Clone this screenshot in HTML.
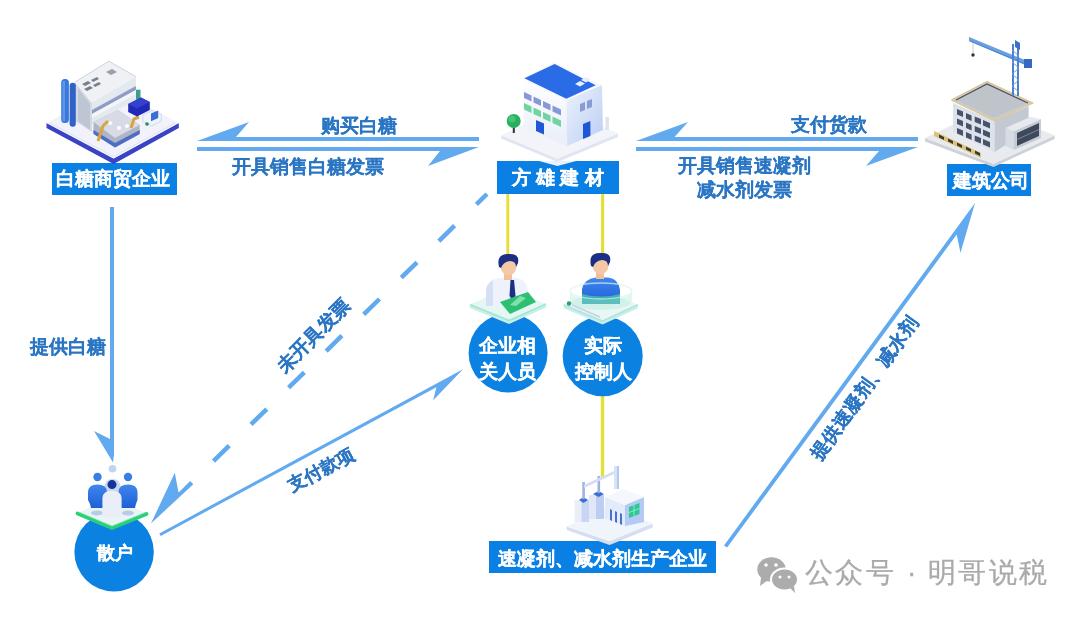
<!DOCTYPE html>
<html><head><meta charset="utf-8">
<style>
html,body{margin:0;padding:0;background:#fff;}
body{width:1080px;height:617px;position:relative;overflow:hidden;font-family:"Liberation Sans",sans-serif;}
svg{position:absolute;left:0;top:0;}
.box{position:absolute;color:#fff;font-weight:bold;font-size:19px;line-height:32px;text-align:center;white-space:nowrap;-webkit-text-stroke:0.25px #fff;}
.lbl{position:absolute;color:#2a76c4;font-weight:bold;font-size:19px;line-height:19px;white-space:nowrap;-webkit-text-stroke:0.15px #2a76c4;}
.ctext{position:absolute;color:#fff;font-weight:bold;font-size:18px;line-height:26px;text-align:center;white-space:nowrap;-webkit-text-stroke:0.25px #fff;}
.wm{position:absolute;color:#aaaaaa;font-size:28px;line-height:28px;white-space:nowrap;-webkit-text-stroke:0.3px #aaaaaa;}
#wrap{position:absolute;left:0;top:0;width:1080px;height:617px;filter:blur(0.4px);}
</style></head><body>
<div id="wrap">

<svg width="1080" height="617" viewBox="0 0 1080 617">
<defs>
  <linearGradient id="gRight" x1="0" y1="0" x2="1" y2="1">
    <stop offset="0" stop-color="#eef3fd"/><stop offset="1" stop-color="#b9cdf3"/>
  </linearGradient>
  <linearGradient id="gLeftW" x1="0" y1="0" x2="0" y2="1">
    <stop offset="0" stop-color="#ffffff"/><stop offset="1" stop-color="#e9eef8"/>
  </linearGradient>
  <linearGradient id="gBlueBody" x1="0" y1="0" x2="0" y2="1">
    <stop offset="0" stop-color="#3f86ee"/><stop offset="1" stop-color="#1f5fd6"/>
  </linearGradient>
</defs>

<!-- ===== yellow connector lines ===== -->
<rect x="506.3" y="194" width="3" height="72" fill="#e6df3a"/>
<rect x="601" y="194" width="3.2" height="72" fill="#e6df3a"/>
<rect x="600.8" y="390" width="3.4" height="87" fill="#e6df3a"/>

<!-- ===== arrows ===== -->
<g fill="#62aaf0">
  <polygon points="197,141 249,122 236,137 479,137 479,141"/>
  <polygon points="197,147 479,147 428,166 440,151 197,151"/>
  <polygon points="636,141 688,122 674.5,137 918,137 918,141"/>
  <polygon points="636,147 918,147 866,166 879,151 636,151"/>
  <polygon points="110,207 114,207 114,455 113,462.5 94,431 110,439"/>
  <polygon points="159.3,533.4 463.0,369.2 433.2,400.3 436.4,387.2 160.7,536.0"/>
  <polygon points="724.0,545.4 975.0,203.0 960.5,252.7 956.7,234.6 727.1,547.6"/>
  <polygon points="193.3,484.3 151.0,523.5 174.8,472.7 178.6,492.4 190.1,481.1"/>
</g>
<line x1="487" y1="194" x2="190" y2="484" stroke="#62aaf0" stroke-width="4.5" stroke-dasharray="14.8 30.5 22 30.5 22 30.5 22 30.5 22 30.5 22 30.5 22 30.5 22 100"/>

<!-- ===== label boxes ===== -->
<g fill="#0a80e4">
  <rect x="52" y="163" width="125" height="32"/>
  <rect x="497" y="161" width="122" height="33"/>
  <rect x="947" y="164" width="84" height="32"/>
  <rect x="489" y="541" width="227" height="32"/>
</g>

<polygon points="539,161 557.5,166 576,161" fill="#eaf2fd"/>
<!-- ===== circles ===== -->
<g fill="#0b82e2">
  <circle cx="114.1" cy="551.9" r="39.7"/>
  <circle cx="508.1" cy="352.9" r="39.5"/>
  <circle cx="602.7" cy="356.2" r="40"/>
</g>

<!-- ===== top-left factory ===== -->
<g id="factory1">
  <polygon points="46.5,123 113.6,158.4 178.8,123 178.8,128 113.6,164 46.5,128" fill="#3a43c4"/>
  <polygon points="46.5,123 113,88 178.8,123 113.6,158.4" fill="#f1f2fb"/>
  <polyline points="50,123 113.6,156.5 175,123" fill="none" stroke="#dfe2f4" stroke-width="1"/>
  <!-- main block -->
  <polygon points="75,82 92,102.8 92,132 75,121" fill="#d4d9e2"/>
  <polygon points="78,88 90,104 90,130 78,121" fill="#bfc6d3"/>
  <polygon points="92,102.8 135.9,76.6 135.9,100 92,124" fill="#e4e8ef"/>
  <polygon points="92,110 135.9,86 135.9,90 92,114" fill="#8e9cc6"/>
  <polygon points="92,114 135.9,90 135.9,94 92,118" fill="#f3f5f9"/>
  <polygon points="108.9,61.2 135.9,76.6 92,102.8 75,82" fill="#eff1f5"/>
  <polyline points="75,82 108.9,61.2 135.9,76.6" fill="none" stroke="#cdd2dc" stroke-width="1"/>
  <g fill="#7a808e">
    <polygon points="82,84 88,81 91,83 85,86"/><polygon points="84,89 90,86 93,88 87,91"/>
    <polygon points="91,80 97,77 99,79 93,82"/><polygon points="93,85 99,82 101,84 95,87"/>
    <polygon points="106,72 112,69 117,72 111,75" fill="#9aa0ac"/>
  </g>
  <!-- columns -->
  <rect x="61.2" y="79" width="7.7" height="44" rx="3.5" fill="#3b78dc"/>
  <rect x="62.5" y="81" width="2.5" height="40" fill="#5d95ea"/>
  <rect x="69.6" y="82.7" width="6.2" height="44" rx="3" fill="#2f63c8"/>
  <!-- conveyor -->
  <polygon points="93.5,122 118,110 139.7,125 139.7,134 115,147.4 93.5,133" fill="#aeb5c7"/>
  <polygon points="93.5,122 118,110 139.7,125 115,138" fill="#d8dae6"/>
  <polygon points="93.5,130 115,143 139.7,130 139.7,134 115,147.4 93.5,134" fill="#4e6dc4"/>
  <circle cx="110" cy="123" r="2" fill="#fff"/><circle cx="119" cy="128" r="2" fill="#fff"/><circle cx="127" cy="126" r="2" fill="#fff"/>
  <path d="M98,141 L103,126 L108,121" stroke="#d8a63c" stroke-width="3" fill="none"/>
  <path d="M131,128 L134,119 L139,117" stroke="#d8a63c" stroke-width="3" fill="none"/>
  <!-- truck -->
  <rect x="136" y="89.7" width="4.5" height="10" fill="#3aa08c"/>
  <polygon points="128.2,104 141,97.4 149.8,102 149.8,110 137,116.6 128.2,112" fill="#1f2bb8"/>
  <polygon points="128.2,104 141,97.4 149.8,102 137,108.5" fill="#3540cc"/>
  <polygon points="142.8,115 152,110.5 161.3,114 161.3,121 152,125.9 142.8,121.5" fill="#eef3fc" stroke="#c6d3ee" stroke-width="0.8"/>
  <polygon points="151,113.5 158.2,110.5 158.2,118 151,121.3" fill="#3a6cd8"/>
  <circle cx="147" cy="124" r="1.8" fill="#2a8a5a"/>
</g>

<!-- ===== center building ===== -->
<g id="building">
  <polygon points="501.2,135.2 557.4,158.4 618,133.5 618,137 557.4,162 501.2,138.5" fill="#dfe5f1"/>
  <polygon points="501.2,135.2 561,108 618,133.5 557.4,158.4" fill="#f2f4fa"/>
  <rect x="605.5" y="117" width="3.5" height="13" fill="#dde3ef"/>
  <!-- faces -->
  <polygon points="523.5,78 566.3,100 567.2,146 523.5,128" fill="url(#gLeftW)"/>
  <polygon points="566.3,100 602,85 602.9,130 567.2,146" fill="url(#gRight)"/>
  <polygon points="554.7,62 599,85 566.3,101 522,78.5" fill="#f5f8ff"/>
  <polygon points="554.7,63.9 595.7,85.3 566.3,98.7 524.4,78.2" fill="#2a6be6"/>
  <polygon points="575,84 580,81 585,83.5 580,86.5" fill="#e8eefc"/>
  <polygon points="581,80 586,77 591,79.5 586,82.5" fill="#e8eefc"/>
  <!-- windows left face -->
  <g fill="#8798d8">
    <polygon points="524,92 531.5,95.5 531.5,101.5 524,98"/><polygon points="533.5,96.5 541,100 541,106 533.5,102.5"/>
    <polygon points="543,101 550.5,104.5 550.5,110.5 543,107"/><polygon points="552.5,105.5 561,109.5 561,115.5 552.5,111.5"/>
  </g>
  <g fill="#6fd4a3">
    <polygon points="524,103 531.5,106.5 531.5,113 524,109.5"/><polygon points="533.5,107.5 541,111 541,117.5 533.5,114"/>
    <polygon points="543,112 550.5,115.5 550.5,122 543,118.5"/><polygon points="552.5,116.5 561,120.5 561,127 552.5,123"/>
  </g>
  <polygon points="536,120 544,123.5 544,134.5 536,131" fill="#1f57d8"/>
  <!-- right face -->
  <polygon points="580,104 585,102 585,110 580,112" fill="#8a9cd4"/><polygon points="587,101 592,99 592,107 587,109" fill="#8a9cd4"/>
  <polygon points="583,124 590.4,121 590.4,136 583,139" fill="#1f57d8"/>
  <!-- tree -->
  <rect x="512.8" y="124" width="2" height="9" fill="#2c3340"/>
  <circle cx="513.7" cy="121" r="7" fill="#28b060"/>
  <circle cx="512" cy="119" r="3.5" fill="#4fd182" opacity="0.7"/>
</g>

<!-- ===== construction site ===== -->
<g id="construct">
  <polygon points="925,138 993.5,163.7 1054.6,135.5 1054.6,139 993.5,167 925,141.5" fill="#cdd1d8"/>
  <polygon points="925,138 988,108 1054.6,135.5 993.5,163.7" fill="#e8eaee"/>
  <polygon points="934,131 981,153 981,158 934,136" fill="#dcc27a"/>
  <g fill="#3a3a30"><polygon points="939,134.5 944,137 944,140 939,137.5"/><polygon points="948,138.5 953,141 953,144 948,141.5"/><polygon points="957,142.5 962,145 962,148 957,145.5"/><polygon points="966,146.5 971,149 971,152 966,149.5"/><polygon points="975,150.5 980,153 980,156 975,153.5"/></g>
  <!-- main block -->
  <polygon points="953,103 994.7,121 994.7,152 953,132" fill="#dde2ea"/>
  <polygon points="994.7,121 1028.6,106 1028.6,130 994.7,152" fill="#c3c9d3"/>
  <polygon points="987,81.6 1032.5,103 994.7,120.5 951.6,100" fill="#c9cdd3"/>
  <polygon points="987,84 1028,103 994.7,118 956,100" fill="#bfc3ca"/>
  <polyline points="956,100 987,84 1028,103" fill="none" stroke="#4a505c" stroke-width="1.2"/>
  <polyline points="951.6,100 987,81.6 1032.5,103 994.7,120.5 951.6,100" fill="none" stroke="#dcc79a" stroke-width="1.6"/>
  <g fill="#46536a">
    <polygon points="957,109 963,111.5 963,117 957,114.5"/><polygon points="966,113 971.6,115.5 971.6,121 966,118.5"/><polygon points="974.7,116.5 981,119 981,124.5 974.7,122"/><polygon points="983,120 990,123 990,128.5 983,125.5"/>
    <polygon points="957,118.5 963,121 963,126.5 957,124"/><polygon points="966,122.5 971.6,125 971.6,130.5 966,128"/><polygon points="974.7,126 981,128.5 981,134 974.7,131.5"/><polygon points="983,129.5 990,132.5 990,138 983,135"/>
    <polygon points="957,128 963,130.5 963,136 957,133.5"/><polygon points="966,132 971.6,134.5 971.6,140 966,137.5"/><polygon points="974.7,135.5 981,138 981,143.5 974.7,141"/><polygon points="983,139 990,142 990,147.5 983,144.5"/>
  </g>
  <!-- annex -->
  <polygon points="1005.5,128 1014,131.5 1014,150 1005.5,146" fill="#d7dce4"/>
  <polygon points="1014,131.5 1041,119 1041,138 1014,150" fill="#c6ccd5"/>
  <polygon points="1005.5,128 1030,117 1041,119 1014,131.5" fill="#e6e9ee"/>
  <polygon points="1017,133 1039,123 1039,136 1017,146" fill="#3e4a5c"/>
  <line x1="1017" y1="139.5" x2="1039" y2="129.5" stroke="#8a96a8" stroke-width="0.8"/>
  <!-- crane -->
  <polygon points="969,37 1030,62 1030,67 969,41" fill="#6a9fe0"/>
  <line x1="970" y1="41" x2="1030" y2="66" stroke="#4a84d0" stroke-width="1"/>
  <rect x="1012" y="44" width="2" height="52" fill="#4a80cc"/>
  <rect x="1017" y="46" width="2" height="50" fill="#4a80cc"/>
  <path d="M1012,50 L1019,56 L1012,62 L1019,68 L1012,74 L1019,80 L1012,86 L1019,92" stroke="#6a9ae0" stroke-width="1" fill="none"/>
  <polygon points="1015,40 1020,43 1020,50 1015,47" fill="#3a70c8"/>
  <rect x="1024" y="59" width="8" height="9" fill="#3568c0"/>
  <line x1="973" y1="43" x2="973" y2="54" stroke="#999" stroke-width="0.5"/>
  <circle cx="973" cy="55" r="1.7" fill="#333"/>
</g>

<!-- ===== bottom factory ===== -->
<g id="factory2">
  <polygon points="566.6,526.4 609.6,541 652.6,523.5 652.6,527.5 609.6,545 566.6,530" fill="#d6def0"/>
  <polygon points="566.6,526.4 610,506 652.6,523.5 609.6,541" fill="#f0f4fb"/>
  <!-- tanks -->
  <rect x="574.6" y="500" width="14.4" height="22" fill="#e9eef9"/>
  <rect x="581.5" y="500" width="7.5" height="22" fill="#c9d6f3"/>
  <polygon points="579,500 583.5,497 588,500 583.5,503" fill="#3c6fd6"/>
  <rect x="582.3" y="482" width="2.6" height="17" fill="#9eb3e3"/>
  <rect x="589" y="495" width="15" height="24" fill="#dfe7f8"/>
  <rect x="596" y="495" width="8" height="24" fill="#bccdf2"/>
  <polygon points="593,494 598.5,491 604,494 598.5,497" fill="#3c6fd6"/>
  <rect x="597.5" y="476" width="2.6" height="17" fill="#9eb3e3"/>
  <polygon points="584,485 614,471 614,474 584,488" fill="#d3ddf3"/>
  <rect x="614" y="466" width="5" height="23" fill="#d9e3f7"/>
  <rect x="617" y="466" width="2" height="23" fill="#b7c8ee"/>
  <!-- main box -->
  <polygon points="605,497 625,505 625,526 605,518" fill="#e3ebfa"/>
  <polygon points="625,505 644,497 644,522 625,526" fill="#b4c9f3"/>
  <polygon points="605,497 624,489 644,497 625,505" fill="#f4f7fd"/>
  <g fill="#4d6fc8"><polygon points="610,509 612,510 612,521 610,520"/><polygon points="615,511 617,512 617,523 615,522"/><polygon points="620,513 622,514 622,525 620,524"/></g>
  <polygon points="629,507 639.5,503 639.5,514 629,518" fill="#2fc895"/>
  <path d="M634,505 L634,516 M629,512.5 L639.5,508.5" stroke="#9ef0cf" stroke-width="0.8"/>
</g>

<!-- ===== persons on platforms ===== -->
<g id="p1">
  <polygon points="470,304.5 509,320.5 546,304 546,307.5 509,324 470,308" fill="#c6efe6"/>
  <polygon points="470,304.5 508,288 546,304 509,320.5" fill="#e4f7f3"/>
  <polyline points="470,304.5 509,320.5 546,304" fill="none" stroke="#a4e5d6" stroke-width="1.8"/>
  <path d="M486,306 L486,290 Q487,280 499,278 L517,278 Q527,280 528,291 L528,306 Z" fill="#edf2fc"/>
  <path d="M486,306 L486,290 Q487,283 493,280 L493,306 Z" fill="#d6e0f5"/>
  <polygon points="510.5,280 514,280 515.5,296 512.5,300 509.5,296" fill="#1c2f85"/>
  <polygon points="500,302 528,292 536,302 510,314" fill="#2fbf72"/>
  <polygon points="510,305 520,296 526,298 516,306" fill="#7fe2aa"/>
  <rect x="504" y="272" width="8" height="8" fill="#f0bf9c"/>
  <ellipse cx="508.5" cy="266" rx="8" ry="9.5" fill="#f5c8a6"/>
  <path d="M499,267 Q496,254 508,254 Q520,253 518,263 L516,267 Q516,261 510,261 Q503,262 501,268 Z" fill="#1c2f85"/>
</g>
<g id="p2">
  <polygon points="563.7,304.8 602.6,321 637.8,304.8 637.8,308.3 602.6,324.5 563.7,308.3" fill="#c9eee8"/>
  <polygon points="563.7,304.8 601,288 637.8,304.8 602.6,321" fill="#e8f7f5"/>
  <polyline points="563.7,304.8 602.6,321 637.8,304.8" fill="none" stroke="#ade6da" stroke-width="1.8"/>
  <path d="M582,304 L582,289 Q584,279 596,277.5 L608,277.5 Q619,279 620,290 L620,304 Z" fill="url(#gBlueBody)"/>
  <path d="M582,294 Q601,299 620,294 L620,304 L582,304 Z" fill="#4fcfa6" opacity="0.7"/>
  <path d="M570,291 L570,300 Q570,309 601,310 Q632,309 632,300 L632,291 Q632,299 601,300 Q570,299 570,291 Z" fill="#9fe6d2" opacity="0.3"/>
  <ellipse cx="601" cy="291" rx="31" ry="8" fill="none" stroke="#d6f3ec" stroke-width="1.4" opacity="0.7"/>
  <rect x="596" y="271" width="8" height="8" fill="#f0bf9c"/>
  <ellipse cx="600.5" cy="265" rx="8" ry="9.5" fill="#f5c8a6"/>
  <path d="M591,266 Q588,253 600,253 Q612,252 610,262 L608,266 Q608,260 602,260 Q595,261 593,267 Z" fill="#1c2f85"/>
  <circle cx="569" cy="303.5" r="2.2" fill="#2f9e6a"/>
  <line x1="572" y1="305" x2="600" y2="317" stroke="#c9cfe6" stroke-width="1.5"/>
</g>
<g id="p3">
  <polygon points="77.6,512.9 112,497.5 146.4,513.5 112,526.6" fill="#e9f3f8"/>
  <circle cx="112.5" cy="468.8" r="3.8" fill="#c3d2ee"/>
  <path d="M104,500 L104,488 Q105,479 112.5,479 Q120,479 121,488 L121,500 Z" fill="#c9d6f0"/>
  <path d="M88,506 L88,492 Q88.5,484.6 97.5,484.6 Q106.5,484.6 107,492 L107,500 Q105,503 105,508 L91,508 Q90,503 88,500 Z" fill="url(#gBlueBody)"/>
  <path d="M118.5,506 L118.5,492 Q119,484.6 128,484.6 Q137,484.6 137.5,492 L137.5,500 Q136,503 135,508 L121,508 Q120,503 118.5,500 Z" fill="url(#gBlueBody)"/>
  <circle cx="97.5" cy="477" r="4.2" fill="#3a7de6"/>
  <circle cx="128" cy="477" r="4.2" fill="#3a7de6"/>
  <ellipse cx="97" cy="513" rx="6" ry="2.5" fill="#b9c9ea"/>
  <ellipse cx="128" cy="513" rx="6" ry="2.5" fill="#b9c9ea"/>
  <path d="M102.4,517 L102.4,498 Q103,490.8 112,490.8 Q121,490.8 121.6,498 L121.6,517 Z" fill="#eaeef6"/>
  <circle cx="112" cy="484.6" r="4.5" fill="#16339a"/>
  <polyline points="77.6,513.5 112,528 146.4,514" fill="none" stroke="#2bcf78" stroke-width="4" stroke-linejoin="round" stroke-linecap="round"/>
  <polyline points="79,512 112,526 145,512.5" fill="none" stroke="#8ff0bb" stroke-width="1" opacity="0.8"/>
</g>

<!-- ===== watermark icon ===== -->
<g fill="#acacac">
  <ellipse cx="771.5" cy="569.5" rx="14.2" ry="12.2"/>
  <polygon points="761,578 760,586 768,580"/>
  <ellipse cx="784.5" cy="579.5" rx="13.5" ry="11" stroke="#fff" stroke-width="2"/>
  <polygon points="790,588 795,593 794,586"/>
</g>
<g fill="#fff">
  <circle cx="766" cy="565" r="1.8"/><circle cx="776" cy="565" r="1.8"/>
  <circle cx="780" cy="577" r="1.5"/><circle cx="789" cy="577" r="1.5"/>
</g>
</svg>

<!-- label texts -->
<div class="box" style="left:50.5px;top:163px;width:125px;height:32px;">白糖商贸企业</div>
<div class="box" style="left:497px;top:161px;width:122px;height:33px;line-height:33px;font-size:19px;letter-spacing:5.4px;text-indent:5px;">方雄建材</div>
<div class="box" style="left:949px;top:164.5px;width:84px;height:32px;font-size:18.5px;">建筑公司</div>
<div class="box" style="left:489px;top:543px;width:227px;height:32px;font-size:18.5px;">速凝剂、减水剂生产企业</div>

<div class="ctext" style="left:75px;top:540px;width:80px;">散户</div>
<div class="ctext" style="left:467.5px;top:332.5px;width:80px;line-height:26px;font-size:19px;">企业相<br>关人员</div>
<div class="ctext" style="left:563px;top:332.5px;width:80px;line-height:26px;font-size:19px;">实际<br>控制人</div>

<div class="lbl" style="left:321px;top:116px;">购买白糖</div>
<div class="lbl" style="left:232px;top:157px;">开具销售白糖发票</div>
<div class="lbl" style="left:791px;top:115px;">支付货款</div>
<div class="lbl" style="left:678px;top:154px;line-height:24px;text-align:center;">开具销售速凝剂<br>减水剂发票</div>
<div class="lbl" style="left:30px;top:337px;">提供白糖</div>
<div class="lbl" style="left:266px;top:326px;transform:rotate(-45deg);">未开具发票</div>
<div class="lbl" style="left:285px;top:461px;font-size:18px;line-height:18px;transform:rotate(-28.5deg);">支付款项</div>
<div class="lbl" style="left:778.5px;top:379px;font-size:18.5px;line-height:18px;transform:rotate(-54.5deg);">提供速凝剂、减水剂</div>

<div class="wm" style="left:805px;top:559px;letter-spacing:2.3px;">公众号</div><div class="wm" style="left:907px;top:559px;">·</div><div class="wm" style="left:928px;top:559px;letter-spacing:2.3px;">明哥说税</div>

</div>
</body></html>
